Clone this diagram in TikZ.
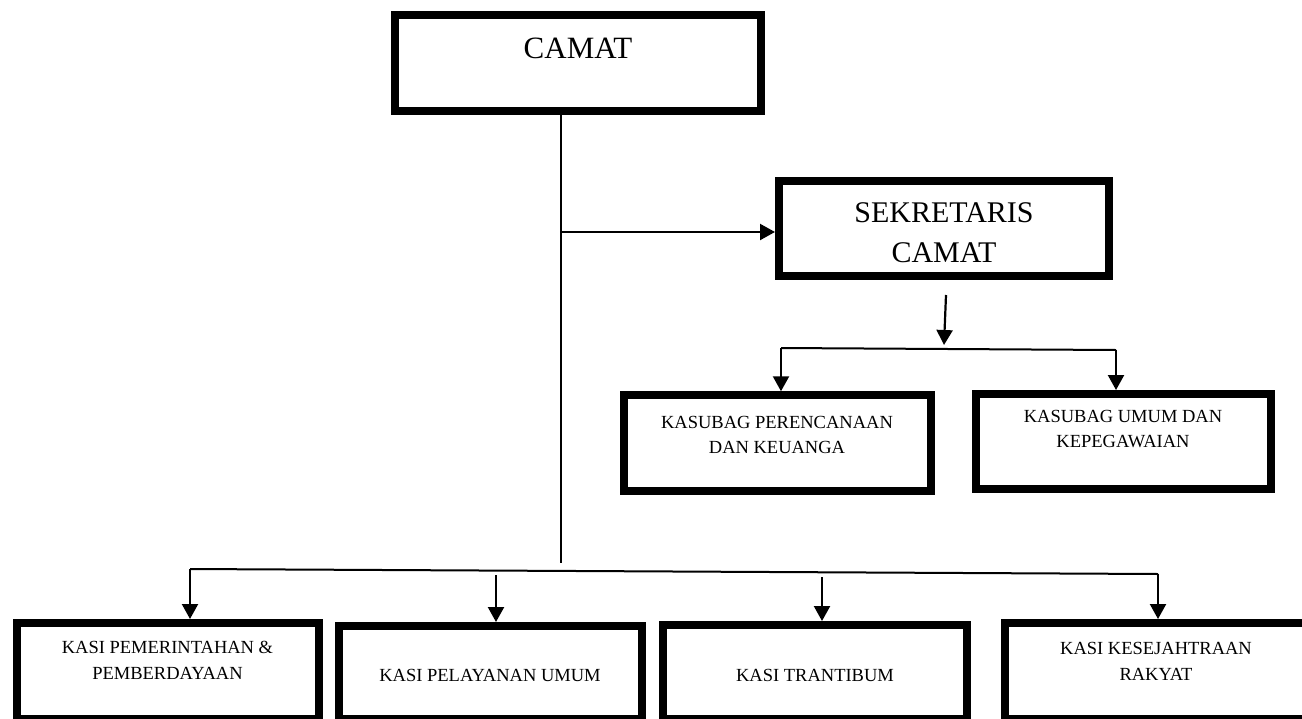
\documentclass[tikz,border=0pt]{standalone}
\usepackage{fontspec}
\setmainfont{Liberation Serif}
\usetikzlibrary{arrows.meta}
\begin{document}
\begin{tikzpicture}[x=1pt,y=-1pt,
  box/.style={draw, line width=8pt, inner sep=0pt},
  bigtext/.style={font=\fontsize{31}{40}\selectfont, align=center, inner sep=0pt},
  smalltext/.style={font=\fontsize{18.5}{26}\selectfont, align=center, inner sep=0pt},
  ln/.style={line width=2pt},
  arr/.style={line width=2.2pt, -{Triangle[length=15pt,width=16pt]}}]
\useasboundingbox (0,0) rectangle (1302,718);

% boxes
\node[box, minimum width=366pt, minimum height=96pt] (camat) at (578,63) {};
\node[box, minimum width=330pt, minimum height=95pt] (sek) at (944,228.5) {};
\node[box, minimum width=307pt, minimum height=95.5pt] (per) at (777,443) {};
\node[box, minimum width=295pt, minimum height=95pt] (umum) at (1123.5,441.5) {};
\node[box, minimum width=302pt, minimum height=96pt] (k1) at (167.5,671) {};
\node[box, minimum width=303pt, minimum height=93pt] (k2) at (490.5,672.5) {};
\node[box, minimum width=303.5pt, minimum height=94pt] (k3) at (814.75,672) {};
\node[box, minimum width=301pt, minimum height=96pt] (k4) at (1155.5,671) {};

% texts
\node[bigtext] (camatT) at (578,48) {CAMAT};
\node[bigtext, font=\fontsize{30}{40}\selectfont] (sekT) at (944,233) {SEKRETARIS\\CAMAT};
\node[smalltext, font=\fontsize{18.5}{25}\selectfont] (perT) at (777,435) {KASUBAG PERENCANAAN\\DAN KEUANGA};
\node[smalltext, font=\fontsize{18.5}{25}\selectfont] (umumT) at (1123,429) {KASUBAG UMUM DAN\\KEPEGAWAIAN};
\node[smalltext] (k1T) at (167.5,660.5) {KASI PEMERINTAHAN \&\\PEMBERDAYAAN};
\node[smalltext] (k2T) at (490,675) {KASI PELAYANAN UMUM};
\node[smalltext] (k3T) at (815,675) {KASI TRANTIBUM};
\node[smalltext] (k4T) at (1156,661) {KASI KESEJAHTRAAN\\RAKYAT};

% connector coordinates
\coordinate (vend) at (561,563);
\coordinate (j1) at (561,232);
\coordinate (s1) at (946,295);
\coordinate (s2) at (944,345);
\coordinate (hL) at (781,348);
\coordinate (hR) at (1116,350);
\coordinate (bL) at (190,569);
\coordinate (bR) at (1158,574);
\coordinate (a2) at (496,575);
\coordinate (a3) at (822,577);

% connectors
\draw[ln] (camat.south -| vend) -- (vend);
\draw[arr] (j1) -- (j1 -| sek.west);
\draw[arr] (s1) -- (s2);
\draw[ln] (hL) -- (hR);
\draw[arr] (hL) -- (hL |- per.north);
\draw[arr] (hR) -- (hR |- umum.north);
\draw[ln] (bL) -- (bR);
\draw[arr] (bL) -- (bL |- k1.north);
\draw[arr] (a2) -- (a2 |- k2.north);
\draw[arr] (a3) -- (a3 |- k3.north);
\draw[arr] (bR) -- (bR |- k4.north);
\end{tikzpicture}
\end{document}
